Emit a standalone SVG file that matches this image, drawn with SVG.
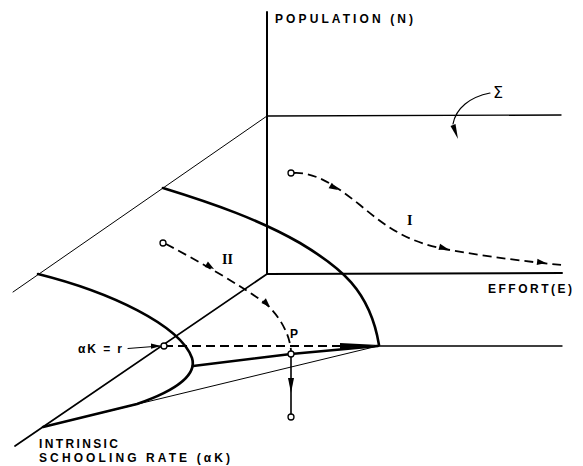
<svg xmlns="http://www.w3.org/2000/svg" width="583" height="466" viewBox="0 0 583 466">
<style>
.ax{stroke:#000;fill:none;stroke-linecap:round}
.thin{stroke-width:1}
.med{stroke-width:1.4}
.thick{stroke-width:2.6;stroke:#000;fill:none;stroke-linecap:round;stroke-linejoin:round}
.dash{stroke:#000;fill:none;stroke-width:1.8;stroke-dasharray:9 5}
.dot{fill:#fff;stroke:#000;stroke-width:1.3}
.ah{fill:#000;stroke:none}
.lbl{font-family:"Liberation Sans",Arial,sans-serif;font-size:12px;font-weight:bold;fill:#000}
.rom{font-family:"Liberation Serif","Times New Roman",serif;font-size:14px;font-weight:bold;fill:#000}
.sig{font-family:"DejaVu Sans",sans-serif;font-size:16px;fill:#000}
</style>
<rect width="583" height="466" fill="#fff"/>
<g id="axes">
<line class="ax" x1="267" y1="12" x2="267" y2="274" stroke-width="2"/>
<line class="ax med" x1="267" y1="116" x2="561" y2="115"/>
<line class="ax thin" x1="267" y1="116" x2="13" y2="292"/>
<line class="ax" x1="267" y1="274" x2="562" y2="273" stroke-width="2"/>
<line class="ax" x1="267" y1="274" x2="15" y2="446" stroke-width="1.7"/>
<line class="ax med" x1="378" y1="346" x2="562" y2="346"/>
<line class="ax thin" x1="43" y1="427" x2="378" y2="346"/>
</g>
<g id="surface">
<path class="thick" d="M163,188 C215,204 260,220 300,243 C340,267 370,290 379,345"/>
<path class="thick" d="M38,274 C110,292 180,325 192,358 C197,374 178,390 137,404 L43,427"/>
<path class="thick" d="M193,366 L291,354 L378,346"/>
<path class="ah" d="M340,343 L379,345 L340,349 Z"/>
</g>
<g id="connectors">
<path class="dash" d="M164,346 L376,346"/>
<path class="dash" d="M294,173 C315,172 335,185 360,205 C390,230 410,243 450,250 C490,257 530,262 562,265"/>
<path class="dash" d="M166,244 C200,262 240,285 265,303 C280,316 290,335 291,351"/>
<path class="ah" d="M0,0 L-9,-3.2 L-9,3.2 Z" transform="translate(338,190) rotate(30)"/>
<path class="ah" d="M0,0 L-9,-3.2 L-9,3.2 Z" transform="translate(448,249) rotate(14)"/>
<path class="ah" d="M0,0 L-9,-3.2 L-9,3.2 Z" transform="translate(546,263) rotate(7)"/>
<path class="ah" d="M0,0 L-9,-3.2 L-9,3.2 Z" transform="translate(214,269) rotate(31)"/>
<path class="ah" d="M0,0 L-9,-3.2 L-9,3.2 Z" transform="translate(270,307) rotate(45)"/>
<line class="ax" x1="291" y1="357" x2="291" y2="414" stroke-width="1.6"/>
<path class="ah" d="M291,393 L288,378 L294,378 Z"/>
<line class="ax thin" x1="128" y1="348.5" x2="160" y2="346"/>
<path class="ah" d="M161,346 L151,343.5 L151,348.8 Z"/>
<path class="ax" d="M490,93 C470,97 456,108 453,124" stroke-width="1.2"/>
<path class="ah" d="M458,139 L450.5,126 L455.5,124 Z"/>
<circle class="dot" cx="291" cy="173" r="3"/>
<circle class="dot" cx="163" cy="243" r="3"/>
<circle class="dot" cx="164" cy="346" r="3"/>
<circle class="dot" cx="291" cy="354" r="3"/>
<circle class="dot" cx="291" cy="417" r="3"/>
</g>
<g id="labels">
<text class="lbl" x="275" y="23" textLength="138" lengthAdjust="spacing">POPULATION (N)</text>
<text class="lbl" x="488" y="293" textLength="84" lengthAdjust="spacing">EFFORT(E)</text>
<text class="lbl" x="78" y="353" textLength="44" lengthAdjust="spacing">αK = r</text>
<text class="lbl" x="39" y="448" textLength="79" lengthAdjust="spacing">INTRINSIC</text>
<text class="lbl" x="39" y="462" textLength="191" lengthAdjust="spacing">SCHOOLING RATE (αK)</text>
<text class="lbl" x="290" y="338" font-size="13">P</text>
<text class="rom" x="407" y="225" font-size="15">I</text>
<text class="rom" x="222" y="264">II</text>
<text class="sig" x="493" y="98">Σ</text>
</g>
</svg>
